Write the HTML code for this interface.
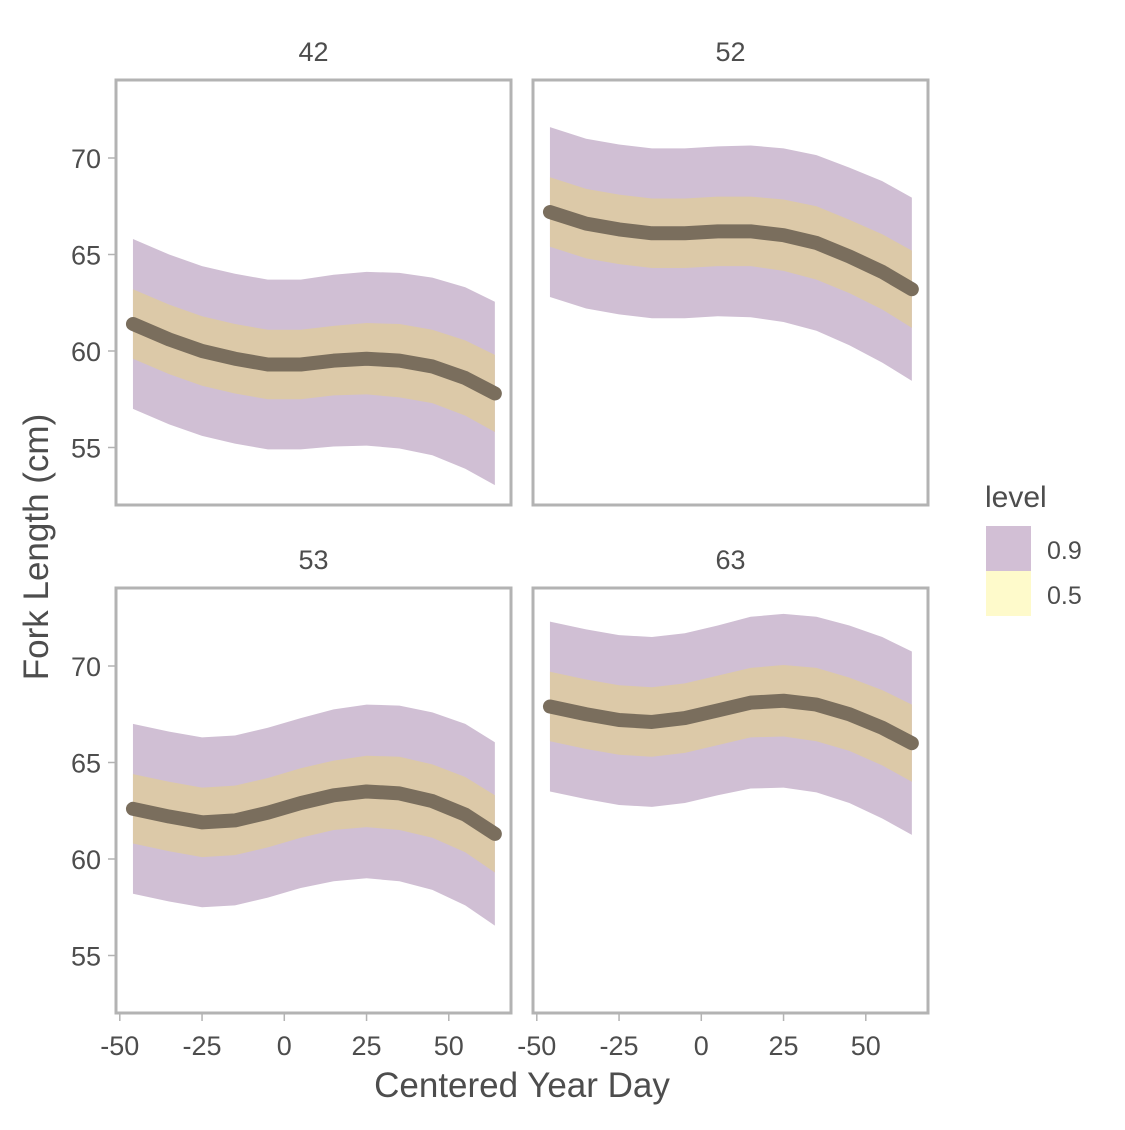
<!DOCTYPE html>
<html><head><meta charset="utf-8"><style>
body{margin:0;background:#fff;}
svg text{font-family:"Liberation Sans",Arial,sans-serif;fill:#4d4d4d;}
</style></head><body>
<svg id="chart" width="1125" height="1125" viewBox="0 0 1125 1125" xmlns="http://www.w3.org/2000/svg">
<g id="plots"></g>
<text x="522" y="1097" font-size="35" text-anchor="middle">Centered Year Day</text>
<text transform="translate(48,547) rotate(-90)" font-size="35" text-anchor="middle">Fork Length (cm)</text>
<g>
<text x="985" y="507" font-size="30">level</text>
<rect x="986" y="526" width="45" height="45" fill="#d2bfd5"/>
<rect x="986" y="571" width="45" height="45" fill="#fefacb"/>
<text x="1047" y="559" font-size="25">0.9</text>
<text x="1047" y="604" font-size="25">0.5</text>
</g>
</svg>
<script>
const xs = [-46,-35,-25,-15,-5,5,15,25,35,45,55,64];
const panelNames = ["42","52","53","63"];
const median42 = [61.4,60.6,60.0,59.6,59.3,59.3,59.5,59.6,59.5,59.2,58.6,57.8];
const median52 = [67.2,66.6,66.3,66.1,66.1,66.2,66.2,66.0,65.6,64.9,64.1,63.2];
const median53 = [62.6,62.2,61.9,62.0,62.4,62.9,63.3,63.5,63.4,63.0,62.3,61.3];
const median63 = [67.9,67.5,67.2,67.1,67.3,67.7,68.1,68.2,68.0,67.5,66.8,66.0];
const half90 = [4.4,4.4,4.4,4.4,4.4,4.4,4.45,4.5,4.55,4.6,4.7,4.75];
const half50 = [1.8,1.8,1.8,1.8,1.8,1.8,1.8,1.85,1.9,1.9,1.95,2.0];
const xTicks = [-50,-25,0,25,50];
const yTicks = [55,60,65,70];
const medians = [median42, median52, median53, median63];

const NS = "http://www.w3.org/2000/svg";
const g = document.getElementById('plots');
const panels = [{x:116,y:80},{x:533,y:80},{x:116,y:588},{x:533,y:588}];
const PW = 395, PH = 425;
function mk(tag, attrs){const e=document.createElementNS(NS,tag);for(const k in attrs)e.setAttribute(k,attrs[k]);return e;}
panels.forEach((p,i)=>{
  const xScale = v => p.x + 168.3 + v*3.29;
  const yScale = v => p.y + 78 + (70 - v)*19.3;
  const pg = mk('g',{});
  
  
  g.appendChild(pg);
  const med = medians[i];
  function band(h, fill, name){
    let d='';
    xs.forEach((x,j)=>{d+=(j?'L':'M')+xScale(x)+' '+yScale(med[j]+h[j]);});
    for(let j=xs.length-1;j>=0;j--) d+='L'+xScale(xs[j])+' '+yScale(med[j]-h[j]);
    const e=mk('path',{d:d+'Z',fill:fill});
    
    
    pg.appendChild(e);
  }
  band(half90,'#d0bfd4','band-90');
  band(half50,'#dcc9a8','band-50');
  let d='';
  xs.forEach((x,j)=>{d+=(j?'L':'M')+xScale(x)+' '+yScale(med[j]);});
  const ln=mk('path',{d:d,fill:'none',stroke:'#7a6e5d','stroke-width':14,'stroke-linecap':'round','stroke-linejoin':'round'});
  
  
  pg.appendChild(ln);
  const fr=mk('rect',{x:p.x,y:p.y,width:PW,height:PH,fill:'none',stroke:'#b3b3b3','stroke-width':3});
  
  
  pg.appendChild(fr);
  const st=mk('text',{x:p.x+PW/2,y:p.y-19,'font-size':27,'text-anchor':'middle'});
  st.textContent=panelNames[i];
  
  
  pg.appendChild(st);
  if(i%2===0){
    yTicks.forEach(t=>{
      const y=yScale(t);
      const tk=mk('line',{x1:p.x-8,x2:p.x-1.5,y1:y,y2:y,stroke:'#b3b3b3','stroke-width':1.5});
      
      
      pg.appendChild(tk);
      const tl=mk('text',{x:p.x-15,y:y+10,'font-size':27,'text-anchor':'end'});
      tl.textContent=t;
      
      
      pg.appendChild(tl);
    });
  }
  if(i>=2){
    xTicks.forEach(t=>{
      const x=xScale(t);
      const tk=mk('line',{x1:x,x2:x,y1:p.y+PH+1.5,y2:p.y+PH+8,stroke:'#b3b3b3','stroke-width':1.5});
      
      
      pg.appendChild(tk);
      const tl=mk('text',{x:x,y:p.y+PH+42,'font-size':27,'text-anchor':'middle'});
      tl.textContent=t;
      
      
      pg.appendChild(tl);
    });
  }
});
</script>
</body></html>
